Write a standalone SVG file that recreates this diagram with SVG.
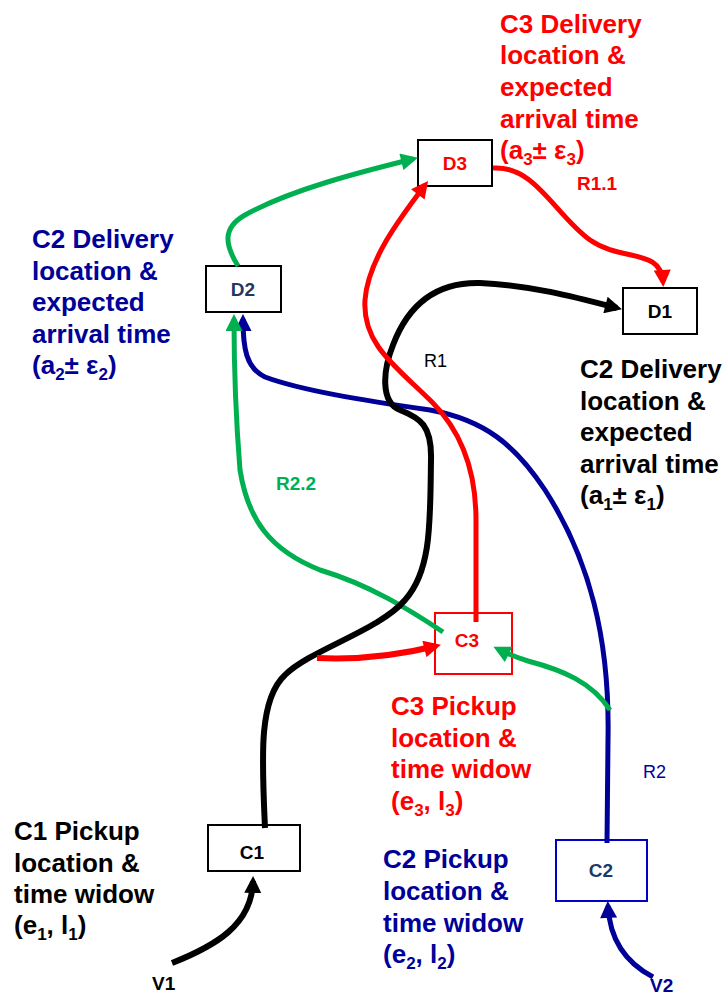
<svg xmlns="http://www.w3.org/2000/svg" width="726" height="996" viewBox="0 0 726 996">
<style>
.t{font-family:"Liberation Sans",Arial,sans-serif;font-weight:bold;font-size:26px}
.lbl{font-family:"Liberation Sans",Arial,sans-serif;font-weight:bold;font-size:19px}
.rl{font-family:"Liberation Sans",Arial,sans-serif;font-size:18px}
.box{fill:#fff;stroke-width:2}
.c{fill:none;stroke-linecap:butt}
.red{fill:#FF0000}.navy{fill:#000099}.blk{fill:#000}.grn{fill:#00B050}
.sub{font-size:17px}
</style>
<defs>
<marker id="aK" markerUnits="userSpaceOnUse" viewBox="0 0 10 10" refX="7" refY="5" markerWidth="19" markerHeight="17" orient="auto"><path d="M0,0 L10,5 L0,10 z" fill="#000"/></marker>
<marker id="aR" markerUnits="userSpaceOnUse" viewBox="0 0 10 10" refX="7" refY="5" markerWidth="19" markerHeight="17" orient="auto"><path d="M0,0 L10,5 L0,10 z" fill="#FF0000"/></marker>
<marker id="aN" markerUnits="userSpaceOnUse" viewBox="0 0 10 10" refX="7" refY="5" markerWidth="19" markerHeight="17" orient="auto"><path d="M0,0 L10,5 L0,10 z" fill="#000099"/></marker>
<marker id="aG" markerUnits="userSpaceOnUse" viewBox="0 0 10 10" refX="7" refY="5" markerWidth="19" markerHeight="17" orient="auto"><path d="M0,0 L10,5 L0,10 z" fill="#00B050"/></marker>
</defs>

<g id="D3"><rect class="box" stroke="#000" x="418" y="140" width="74" height="46"/><text class="lbl red" x="455" y="170" text-anchor="middle">D3</text></g>
<g id="D2"><rect class="box" stroke="#000" x="206" y="266" width="75" height="46"/><text class="lbl" fill="#1F3864" x="243" y="296" text-anchor="middle">D2</text></g>
<g id="D1"><rect class="box" stroke="#000" x="623" y="288" width="74" height="46"/><text class="lbl blk" x="660" y="318" text-anchor="middle">D1</text></g>
<g id="C3"><rect class="box" stroke="#FF0000" x="435" y="613" width="77" height="61"/><text class="lbl red" x="467" y="647" text-anchor="middle">C3</text></g>
<g id="C1"><rect class="box" stroke="#000" x="208" y="825" width="92" height="46"/><text class="lbl blk" x="252" y="859" text-anchor="middle">C1</text></g>
<g id="C2"><rect class="box" stroke="#0000CC" x="556" y="840" width="91" height="61"/><text class="lbl" fill="#1F3864" x="601" y="877" text-anchor="middle">C2</text></g>

<g id="connectors">
<!-- navy R2 -->
<path class="c" stroke="#000099" stroke-width="5" d="M653,977 C630,965 610,945 608,906" marker-end="url(#aN)"/>
<path class="c" stroke="#000099" stroke-width="5" d="M607,843 L608,740 C610,640 590,560 545,490 C515,445 485,420 430,410 C360,400 300,390 265,377 C246,368 243,348 243,319" marker-end="url(#aN)"/>
<!-- green R2.2 -->
<path class="c" stroke="#00B050" stroke-width="5" d="M610,710 C592,682 562,670 528,661 C512,656 504,652 498,649" marker-end="url(#aG)"/>
<path class="c" stroke="#00B050" stroke-width="5" d="M443,632 C410,610 370,585 320,570 C270,550 248,520 240,470 C236,420 234,360 234,319" marker-end="url(#aG)"/>
<path class="c" stroke="#00B050" stroke-width="5" d="M238,266 C225,245 222,228 245,215 C290,190 360,172 413,159" marker-end="url(#aG)"/>
<!-- black R1 -->
<path class="c" stroke="#000" stroke-width="6" d="M172,963 C215,946 252,925 253,881" marker-end="url(#aK)"/>
<path class="c" stroke="#000" stroke-width="6" d="M265,828 C262,760 258,700 285,675 C310,650 380,630 405,600 C432,570 430,520 431,460 C432,425 420,418 400,410 C380,402 383,370 393,345 C410,300 440,282 480,283 C530,285 575,297 617,308" marker-end="url(#aK)"/>
<!-- red R1.1 -->
<path class="c" stroke="#FF0000" stroke-width="6" d="M317,658 C360,660 400,655 436,646" marker-end="url(#aR)"/>
<path class="c" stroke="#FF0000" stroke-width="5" d="M476,622 L476,520 C476,470 462,432 432,402 C398,368 362,345 365,300 C368,260 400,218 425,185" marker-end="url(#aR)"/>
<path class="c" stroke="#FF0000" stroke-width="5" d="M493,168 C535,165 555,215 590,240 C622,262 661,248 663,282" marker-end="url(#aR)"/>
</g>

<g id="labels">
<text class="t red" x="500"><tspan x="500" y="33">C3 Delivery</tspan><tspan x="500" y="64">location &amp;</tspan><tspan x="500" y="96">expected</tspan><tspan x="500" y="128">arrival time</tspan><tspan x="500" y="159">(a<tspan class="sub" dy="6">3</tspan><tspan dy="-6">± ε</tspan><tspan class="sub" dy="6">3</tspan><tspan dy="-6">)</tspan></tspan></text>
<text class="t navy" x="32"><tspan x="32" y="248">C2 Delivery</tspan><tspan x="32" y="280">location &amp;</tspan><tspan x="32" y="311">expected</tspan><tspan x="32" y="343">arrival time</tspan><tspan x="32" y="374">(a<tspan class="sub" dy="6">2</tspan><tspan dy="-6">± ε</tspan><tspan class="sub" dy="6">2</tspan><tspan dy="-6">)</tspan></tspan></text>
<text class="t blk" x="580"><tspan x="580" y="378">C2 Delivery</tspan><tspan x="580" y="410">location &amp;</tspan><tspan x="580" y="441">expected</tspan><tspan x="580" y="473">arrival time</tspan><tspan x="580" y="504">(a<tspan class="sub" dy="6">1</tspan><tspan dy="-6">± ε</tspan><tspan class="sub" dy="6">1</tspan><tspan dy="-6">)</tspan></tspan></text>
<text class="t red" x="391"><tspan x="391" y="715">C3 Pickup</tspan><tspan x="391" y="747">location &amp;</tspan><tspan x="391" y="778">time widow</tspan><tspan x="391" y="810">(e<tspan class="sub" dy="6">3</tspan><tspan dy="-6">, l</tspan><tspan class="sub" dy="6">3</tspan><tspan dy="-6">)</tspan></tspan></text>
<text class="t blk" x="14"><tspan x="14" y="840">C1 Pickup</tspan><tspan x="14" y="872">location &amp;</tspan><tspan x="14" y="903">time widow</tspan><tspan x="14" y="934">(e<tspan class="sub" dy="6">1</tspan><tspan dy="-6">, l</tspan><tspan class="sub" dy="6">1</tspan><tspan dy="-6">)</tspan></tspan></text>
<text class="t navy" x="383"><tspan x="383" y="868">C2 Pickup</tspan><tspan x="383" y="900">location &amp;</tspan><tspan x="383" y="932">time widow</tspan><tspan x="383" y="963">(e<tspan class="sub" dy="6">2</tspan><tspan dy="-6">, l</tspan><tspan class="sub" dy="6">2</tspan><tspan dy="-6">)</tspan></tspan></text>
<text class="lbl red" x="577" y="190">R1.1</text>
<text class="rl blk" x="424" y="367">R1</text>
<text class="lbl grn" x="276" y="490">R2.2</text>
<text class="rl navy" x="643" y="778">R2</text>
<text class="lbl blk" x="152" y="990">V1</text>
<text class="lbl navy" x="650" y="992">V2</text>
</g>
</svg>
